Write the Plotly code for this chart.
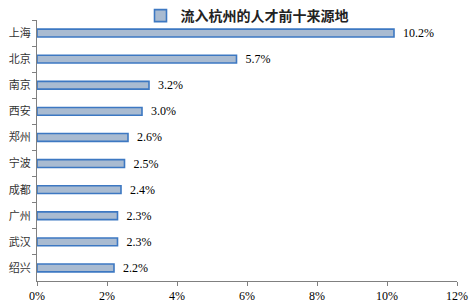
import plotly.graph_objects as go

cities = ["上海", "北京", "南京", "西安", "郑州", "宁波", "成都", "广州", "武汉", "绍兴"]
values = [10.2, 5.7, 3.2, 3.0, 2.6, 2.5, 2.4, 2.3, 2.3, 2.2]
series_name = "流入杭州的人才前十来源地"
xticks = [0, 2, 4, 6, 8, 10, 12]

font_main = "Liberation Serif, Noto Sans CJK SC, serif"

fig = go.Figure(go.Bar(
    y=cities, x=values, orientation="h",
    name="<b>" + series_name + "</b>",
    marker=dict(color="#A9BBD1", line=dict(color="#3D78C2", width=1.6)),
    width=0.3,
    text=[f"{v:.1f}%" for v in values],
    texttemplate="  %{text}",
    textposition="outside",
    constraintext="none",
    textfont=dict(size=12, color="#000000", family=font_main),
    cliponaxis=False,
    showlegend=True,
))

fig.update_layout(
    width=476, height=305,
    margin=dict(l=37, r=19, t=20, b=24, autoexpand=False),
    paper_bgcolor="white", plot_bgcolor="white",
    font=dict(family=font_main, size=12, color="#000000"),
    showlegend=True,
    legend=dict(orientation="h", x=0.5, xanchor="center", yref="container", y=1.0, yanchor="top",
                font=dict(size=14, family="Noto Sans CJK SC, serif", color="#222222"),
                itemwidth=30, tracegroupgap=0, bgcolor="rgba(0,0,0,0)"),
    bargap=0.7,
)
fig.update_xaxes(
    range=[0, 12], tickvals=xticks, ticktext=[f"{t}%" for t in xticks],
    showgrid=False, zeroline=False, showline=True, linecolor="#808080", linewidth=1,
    ticks="outside", ticklen=4, tickcolor="#808080", ticklabelstandoff=0,
    tickfont=dict(size=12), automargin=False,
)
fig.update_yaxes(
    categoryorder="array", categoryarray=cities, autorange="reversed",
    showgrid=False, showline=True, linecolor="#808080", linewidth=1,
    ticks="outside", tickson="boundaries", ticklen=4, tickcolor="#808080",
    ticklabelstandoff=3,
    tickfont=dict(size=11, family="Noto Sans CJK SC, serif", color="#333333"),
    automargin=False,
)

fig.write_html("out.html")
